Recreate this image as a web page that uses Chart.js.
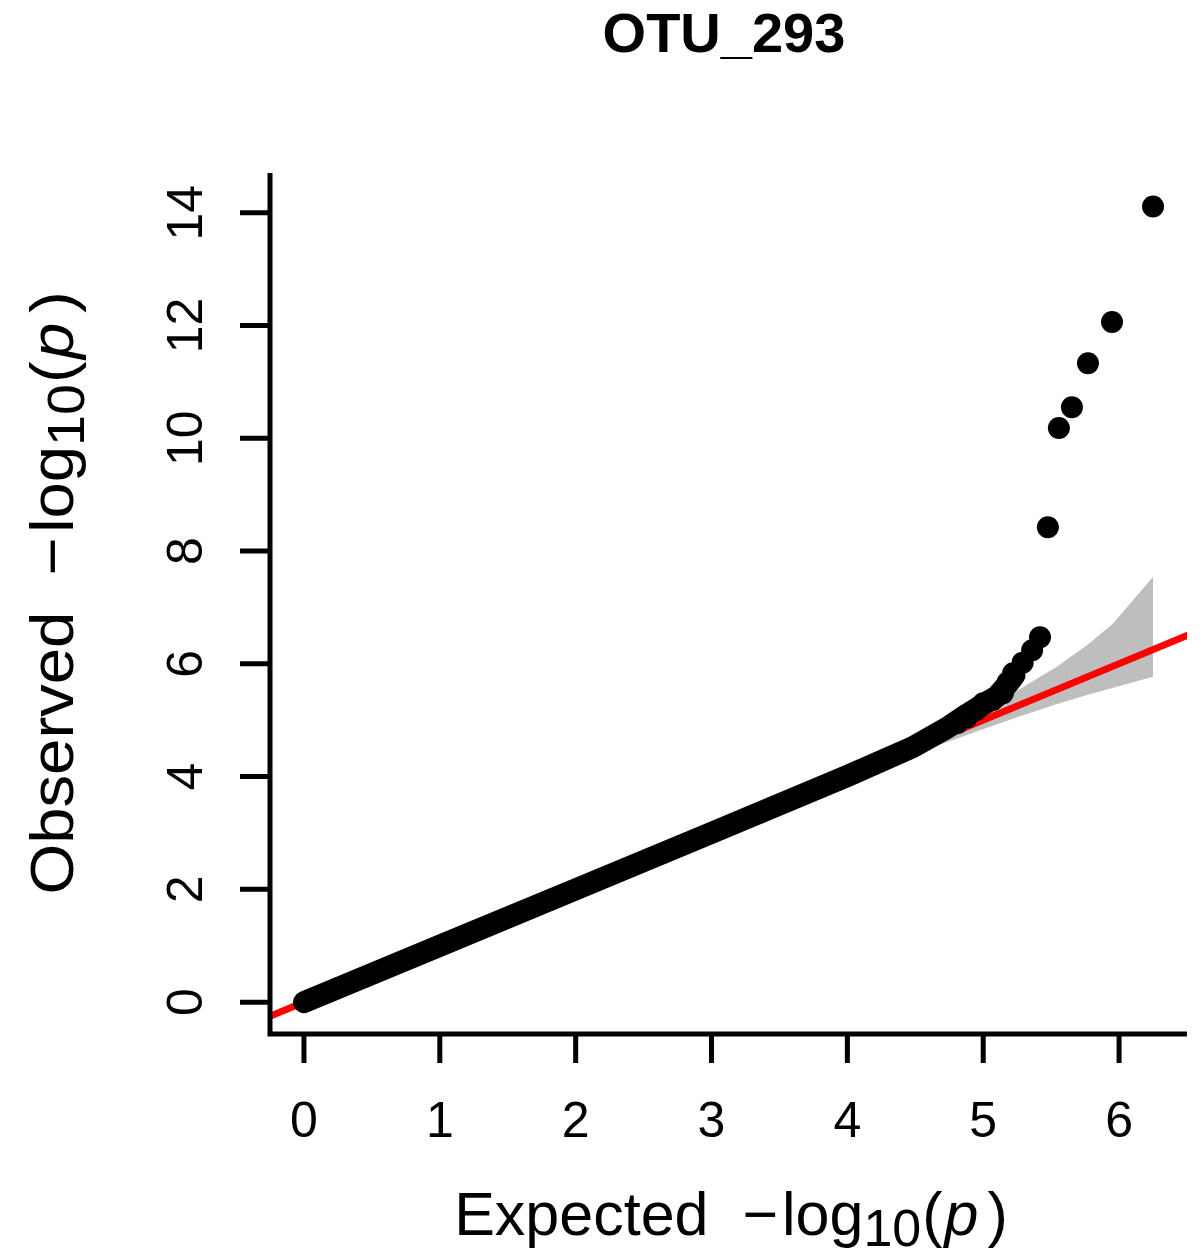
<!DOCTYPE html>
<html>
<head>
<meta charset="utf-8">
<title>OTU_293 QQ plot</title>
<script src="https://cdn.jsdelivr.net/npm/chart.js@4/dist/chart.umd.min.js"></script>
<style>
  html, body { margin: 0; padding: 0; background: #ffffff; }
  #wrap { position: relative; width: 1202px; height: 1250px; }
</style>
</head>
<body>
<div id="wrap"><canvas id="qq" width="1202" height="1250"></canvas></div>
<script>
// Bulk of the observed p-values (drawn as one thick stroke of overlapping dots)
const bulkExpected = [0, 1, 2, 3, 4, 4.48, 4.73, 4.88, 5.0, 5.1, 5.18, 5.23];
const bulkObserved = [0, 1, 2, 3, 4.01, 4.52, 4.86, 5.1, 5.28, 5.42, 5.64, 5.8];

// Individually drawn points near the top of the distribution
const tailExpected = [4.81, 4.88, 4.95, 5.0, 5.07, 5.145, 5.18, 5.22, 5.29, 5.36, 5.418, 5.476, 5.557, 5.653, 5.771, 5.948, 6.25];
const tailObserved = [4.95, 5.05, 5.18, 5.30, 5.36, 5.48, 5.67, 5.83, 6.02, 6.24, 6.47, 8.42, 10.18, 10.55, 11.33, 12.06, 14.11];

// 90% confidence band around the null expectation
const bandExpected = [0, 3.0, 4.0, 4.25, 4.55, 4.95, 5.25, 5.55, 5.77, 5.95, 6.25];
const bandLower    = [0, 2.97, 3.94, 4.18, 4.45, 4.80, 5.05, 5.29, 5.45, 5.57, 5.77];
const bandUpper    = [0, 3.03, 4.06, 4.33, 4.67, 5.13, 5.52, 5.96, 6.34, 6.70, 7.54];

// Identity reference line y = x
const refLine = [-0.5, 7];

// Axis ticks
const xTicks = [0, 1, 2, 3, 4, 5, 6];
const yTicks = [0, 2, 4, 6, 8, 10, 12, 14];

const titleText = 'OTU_293';

const FONT = '"Liberation Sans", Arial, Helvetica, sans-serif';

const zip = (xs, ys) => xs.map((v, i) => ({ x: v, y: ys[i] }));

// Builds a plotmath-like label: word, minus sign, log with subscript 10, (italic p)
function mathLabel(ctx, word, size) {
  const parts = [
    { t: word, f: `${size}px ${FONT}`, dy: 0, gap: 0 },
    { t: '  \u2212', f: `${size}px ${FONT}`, dy: 0, gap: 4 },
    { t: 'log', f: `${size}px ${FONT}`, dy: 0, gap: 0 },
    { t: '10', f: `${Math.round(size * 0.86)}px ${FONT}`, dy: size * 0.18, gap: 1 },
    { t: '(', f: `${size}px ${FONT}`, dy: 0, gap: 2 },
    { t: 'p', f: `italic ${size}px ${FONT}`, dy: 0, gap: 9 },
    { t: ')', f: `${size}px ${FONT}`, dy: 0, gap: 0 }
  ];
  let total = 0;
  parts.forEach(p => { ctx.font = p.f; p.w = ctx.measureText(p.t).width; total += p.w + p.gap; });
  return { parts, total };
}

// stretch: scale factor along the text direction
function drawMathLabel(ctx, word, size, cx, baseline, rotate, stretch) {
  const lab = mathLabel(ctx, word, size);
  ctx.save();
  ctx.translate(cx, baseline);
  if (rotate) ctx.rotate(-Math.PI / 2);
  ctx.scale(stretch, 1);
  ctx.textAlign = 'left';
  ctx.textBaseline = 'alphabetic';
  ctx.fillStyle = '#000';
  let x = -lab.total / 2;
  lab.parts.forEach(p => {
    ctx.font = p.f;
    ctx.fillText(p.t, x, p.dy);
    x += p.w + p.gap;
  });
  ctx.restore();
}

const axesPlugin = {
  id: 'baseAxes',
  afterDraw(chart) {
    const { ctx, chartArea: a, scales: { x, y } } = chart;
    ctx.save();
    ctx.strokeStyle = '#000';
    ctx.lineWidth = 5;
    ctx.lineCap = 'butt';
    ctx.lineJoin = 'miter';

    // L-shaped frame (left and bottom)
    ctx.beginPath();
    ctx.moveTo(a.left, a.top - 1);
    ctx.lineTo(a.left, a.bottom);
    ctx.lineTo(a.right, a.bottom);
    ctx.stroke();

    // tick marks
    ctx.beginPath();
    xTicks.forEach(v => {
      const px = x.getPixelForValue(v);
      ctx.moveTo(px, a.bottom);
      ctx.lineTo(px, a.bottom + 29);
    });
    yTicks.forEach(v => {
      const py = y.getPixelForValue(v);
      ctx.moveTo(a.left, py);
      ctx.lineTo(a.left - 30, py);
    });
    ctx.stroke();

    // tick labels
    ctx.fillStyle = '#000';
    ctx.font = `50px ${FONT}`;
    ctx.textAlign = 'center';
    ctx.textBaseline = 'alphabetic';
    xTicks.forEach(v => {
      ctx.fillText(String(v), x.getPixelForValue(v), a.bottom + 103);
    });
    yTicks.forEach(v => {
      ctx.save();
      ctx.translate(a.left - 68, y.getPixelForValue(v));
      ctx.rotate(-Math.PI / 2);
      ctx.fillText(String(v), 0, 0);
      ctx.restore();
    });

    // title
    ctx.font = `bold 56px ${FONT}`;
    ctx.textAlign = 'center';
    ctx.fillText(titleText, 724, 52);
    ctx.restore();

    // axis titles
    drawMathLabel(ctx, 'Expected', 61, 731, 1235, false, 1);
    drawMathLabel(ctx, 'Observed', 61, 73, 593, true, 1.07);
  }
};

new Chart(document.getElementById('qq'), {
  type: 'scatter',
  data: {
    datasets: [
      {
        label: 'lower band',
        data: zip(bandExpected, bandLower),
        showLine: true,
        borderColor: 'rgba(0,0,0,0)',
        borderWidth: 0,
        pointRadius: 0,
        fill: false,
        order: 4
      },
      {
        label: 'upper band',
        data: zip(bandExpected, bandUpper),
        showLine: true,
        borderColor: 'rgba(0,0,0,0)',
        borderWidth: 0,
        pointRadius: 0,
        backgroundColor: '#bebebe',
        fill: '-1',
        order: 3
      },
      {
        label: 'y = x',
        data: zip(refLine, refLine),
        showLine: true,
        borderColor: '#ff0000',
        borderWidth: 7,
        pointRadius: 0,
        fill: false,
        order: 2
      },
      {
        label: 'observed (bulk)',
        data: zip(bulkExpected, bulkObserved),
        showLine: true,
        borderColor: '#000000',
        borderWidth: 22,
        borderCapStyle: 'round',
        borderJoinStyle: 'round',
        pointRadius: 0,
        fill: false,
        order: 1
      },
      {
        label: 'observed (tail)',
        data: zip(tailExpected, tailObserved),
        showLine: false,
        backgroundColor: '#000000',
        borderColor: '#000000',
        borderWidth: 0,
        pointRadius: 11,
        order: 0
      }
    ]
  },
  options: {
    responsive: false,
    animation: false,
    events: [],
    layout: { padding: { left: 270, right: 15, top: 174, bottom: 216 } },
    scales: {
      x: { type: 'linear', min: -0.25, max: 6.5, display: false },
      y: { type: 'linear', min: -0.565, max: 14.685, display: false }
    },
    plugins: {
      legend: { display: false },
      tooltip: { enabled: false },
      title: { display: false }
    }
  },
  plugins: [axesPlugin]
});
</script>
</body>
</html>
